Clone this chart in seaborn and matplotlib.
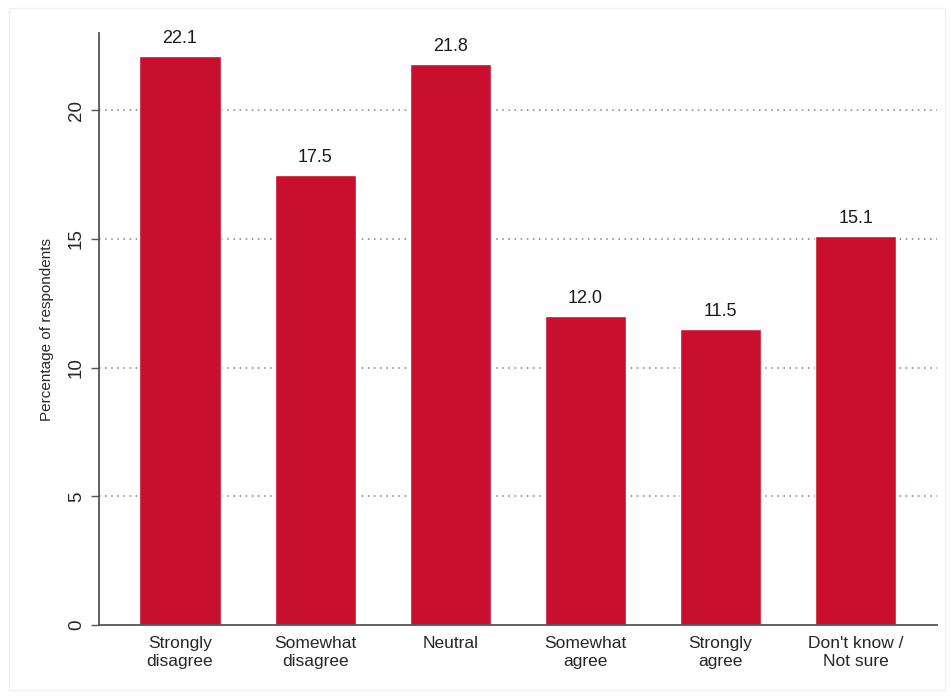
import matplotlib
matplotlib.use("Agg")
import matplotlib.pyplot as plt
import seaborn as sns
import pandas as pd
from matplotlib.patches import Rectangle

categories = ["Strongly\ndisagree", "Somewhat\ndisagree", "Neutral",
              "Somewhat\nagree", "Strongly\nagree", "Don't know /\nNot sure"]
values = [22.1, 17.5, 21.8, 12.0, 11.5, 15.1]
yticks = [0, 5, 10, 15, 20]

sns.set_style("white")
plt.rcParams["font.family"] = ["Liberation Sans", "DejaVu Sans"]

df = pd.DataFrame({"response": categories, "pct": values})

fig = plt.figure(figsize=(9.51, 6.98), dpi=100)
fig.patches.append(Rectangle((0.009, 0.012), 0.985, 0.976, transform=fig.transFigure,
                             fill=False, edgecolor="#f0f0f0", linewidth=1))
ax = fig.add_axes([0.104, 0.1046, 0.881, 0.848])

for y in yticks[1:]:
    ax.axhline(y, color="#808080", linestyle=(0, (1, 3)), linewidth=1.1, zorder=0)

sns.barplot(data=df, x="response", y="pct", color="#C8102E", width=0.6,
            saturation=1, ax=ax, zorder=2)

for i, v in enumerate(values):
    ax.text(i, v + 0.35, f"{v:.1f}", ha="center", va="bottom", fontsize=13, color="#1a1a1a")

ax.set_xlim(-0.6, 5.6)
ax.set_ylim(0, 23)
ax.set_yticks(yticks)
ax.set_yticklabels([str(t) for t in yticks], rotation=90, va="center", fontsize=13.5)
ax.tick_params(axis="y", length=6, width=1, color="#555555", pad=4, left=True)
ax.tick_params(axis="x", length=0, pad=8, labelsize=12.5)
ax.set_xlabel("")
ax.set_ylabel("Percentage of respondents", fontsize=11, labelpad=10)

for s in ["top", "right"]:
    ax.spines[s].set_visible(False)
ax.spines["left"].set_color("#555555")
ax.spines["bottom"].set_color("#555555")
ax.spines["left"].set_linewidth(1.3)
ax.spines["bottom"].set_linewidth(1.3)

fig.savefig("out.png", dpi=100)
